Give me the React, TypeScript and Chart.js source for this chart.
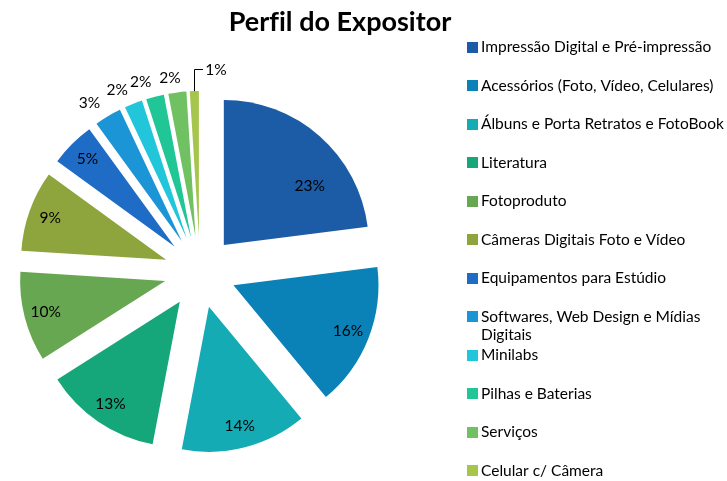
import React, { useEffect, useRef } from "react";
import { Chart, registerables } from "chart.js";

Chart.register(...registerables);

const TITLE = "Perfil do Expositor";
const CATEGORIES = [
  "Impressão Digital e Pré-impressão",
  "Acessórios (Foto, Vídeo, Celulares)",
  "Álbuns e Porta Retratos e FotoBook",
  "Literatura",
  "Fotoproduto",
  "Câmeras Digitais Foto e Vídeo",
  "Equipamentos para Estúdio",
  "Softwares, Web Design e Mídias Digitais",
  "Minilabs",
  "Pilhas e Baterias",
  "Serviços",
  "Celular c/ Câmera",
];
const SHARES = [23, 16, 14, 13, 10, 9, 5, 3, 2, 2, 2, 1];
const COLORS = [
  "#1c5ba5",
  "#0b82b7",
  "#15abb5",
  "#15a679",
  "#68a751",
  "#8ea43c",
  "#1e6cc6",
  "#1c95d7",
  "#22c6da",
  "#21c697",
  "#70c162",
  "#a5c54b",
];

const FONT = "Lato, 'Open Sans', sans-serif";
const W = 727;
const H = 481;
const EXPLODE = 36;
const RADIUS = 145;

function wrapText(ctx: CanvasRenderingContext2D, text: string, maxW: number): string[] {
  const words = text.split(" ");
  const lines: string[] = [];
  let cur = "";
  for (const w of words) {
    const test = cur ? cur + " " + w : w;
    if (ctx.measureText(test).width > maxW && cur) {
      lines.push(cur);
      cur = w;
    } else {
      cur = test;
    }
  }
  if (cur) lines.push(cur);
  return lines;
}

const explodePlugin = {
  id: "explode",
  afterDatasetUpdate(chart: any, args: any) {
    args.meta.data.forEach((el: any) => {
      const mid = (el.startAngle + el.endAngle) / 2;
      el.x += Math.cos(mid) * EXPLODE;
      el.y += Math.sin(mid) * EXPLODE;
    });
  },
};

const labelsPlugin = {
  id: "sliceLabels",
  afterDatasetsDraw(chart: any) {
    const ctx: CanvasRenderingContext2D = chart.ctx;
    const meta = chart.getDatasetMeta(0);
    const data: number[] = chart.data.datasets[0].data;
    const total = data.reduce((a, b) => a + b, 0);
    ctx.save();
    ctx.font = `15.5px ${FONT}`;
    ctx.fillStyle = "#000";
    ctx.strokeStyle = "#000";
    ctx.textBaseline = "middle";
    meta.data.forEach((el: any, i: number) => {
      const { x, y, startAngle, endAngle, outerRadius } = el;
      const mid = (startAngle + endAngle) / 2;
      const c = Math.cos(mid);
      const s = Math.sin(mid);
      const pct = (data[i] / total) * 100;
      const text = Math.round(pct) + "%";
      if (pct >= 5) {
        // the widest slice gets its label nudged toward its lower half, as in the source
        const a = pct > 20 ? mid + (endAngle - startAngle) * 0.17 : mid;
        const f = pct > 20 ? 0.72 : 0.85;
        ctx.textAlign = "center";
        ctx.fillText(text, x + Math.cos(a) * outerRadius * f, y + Math.sin(a) * outerRadius * f);
      } else if (pct > 1) {
        const ax = x + c * (outerRadius + 15);
        const ay = y + s * (outerRadius + 15);
        const w = ctx.measureText(text).width;
        const shift = Math.min(1, Math.abs(c) * 4) * (w / 2) * Math.sign(c);
        ctx.textAlign = "center";
        ctx.fillText(text, ax + shift, ay);
      } else {
        const sx = x + c * outerRadius;
        const sy = y + s * outerRadius;
        const ty = sy - 22;
        ctx.lineWidth = 1;
        ctx.beginPath();
        ctx.moveTo(Math.round(sx) + 0.5, sy);
        ctx.lineTo(Math.round(sx) + 0.5, Math.round(ty) + 0.5);
        ctx.lineTo(Math.round(sx) + 9, Math.round(ty) + 0.5);
        ctx.stroke();
        ctx.textAlign = "left";
        ctx.fillText(text, sx + 11, ty + 1);
      }
    });
    ctx.restore();
  },
};

const chromePlugin = {
  id: "chrome",
  afterDraw(chart: any) {
    const ctx: any = chart.ctx;
    ctx.save();
    ctx.fillStyle = "#000";
    ctx.font = `bold 27px ${FONT}`;
    ctx.textAlign = "center";
    ctx.textBaseline = "alphabetic";
    try {
      ctx.textRendering = "optimizeSpeed";
    } catch (e) {}
    ctx.fillText(TITLE, 340, 31);

    const labels: string[] = chart.data.labels;
    const colors: string[] = chart.data.datasets[0].backgroundColor;
    ctx.font = `15.5px ${FONT}`;
    ctx.textAlign = "left";
    ctx.textBaseline = "middle";
    const textX = 481;
    labels.forEach((lab, i) => {
      const yy = 47 + i * 38.5;
      ctx.fillStyle = colors[i];
      ctx.fillRect(467, Math.round(yy - 5.5), 11, 11);
      ctx.fillStyle = "#000";
      const lines = wrapText(ctx, lab, W - textX - 2);
      lines.forEach((ln, k) => ctx.fillText(ln, textX, yy + k * 18.5));
    });
    ctx.restore();
  },
};

export default function App() {
  const ref = useRef<HTMLCanvasElement | null>(null);
  useEffect(() => {
    if (!ref.current) return;
    const chart = new Chart(ref.current, {
      type: "pie",
      data: {
        labels: CATEGORIES,
        datasets: [
          {
            data: SHARES,
            backgroundColor: COLORS,
            borderWidth: 0,
            clip: false,
          } as any,
        ],
      },
      options: {
        responsive: false,
        animation: false,
        radius: RADIUS,
        layout: { padding: { left: 0, right: 327, top: 63, bottom: 0 } },
        plugins: {
          legend: { display: false },
          title: { display: false },
          tooltip: { enabled: false },
        },
        events: [],
      } as any,
      plugins: [explodePlugin, labelsPlugin, chromePlugin],
    });
    return () => chart.destroy();
  }, []);
  return (
    <div style={{ position: "absolute", left: 0, top: 0, width: W, height: H, background: "#fff" }}>
      <canvas ref={ref} width={W} height={H} style={{ display: "block" }} />
    </div>
  );
}
